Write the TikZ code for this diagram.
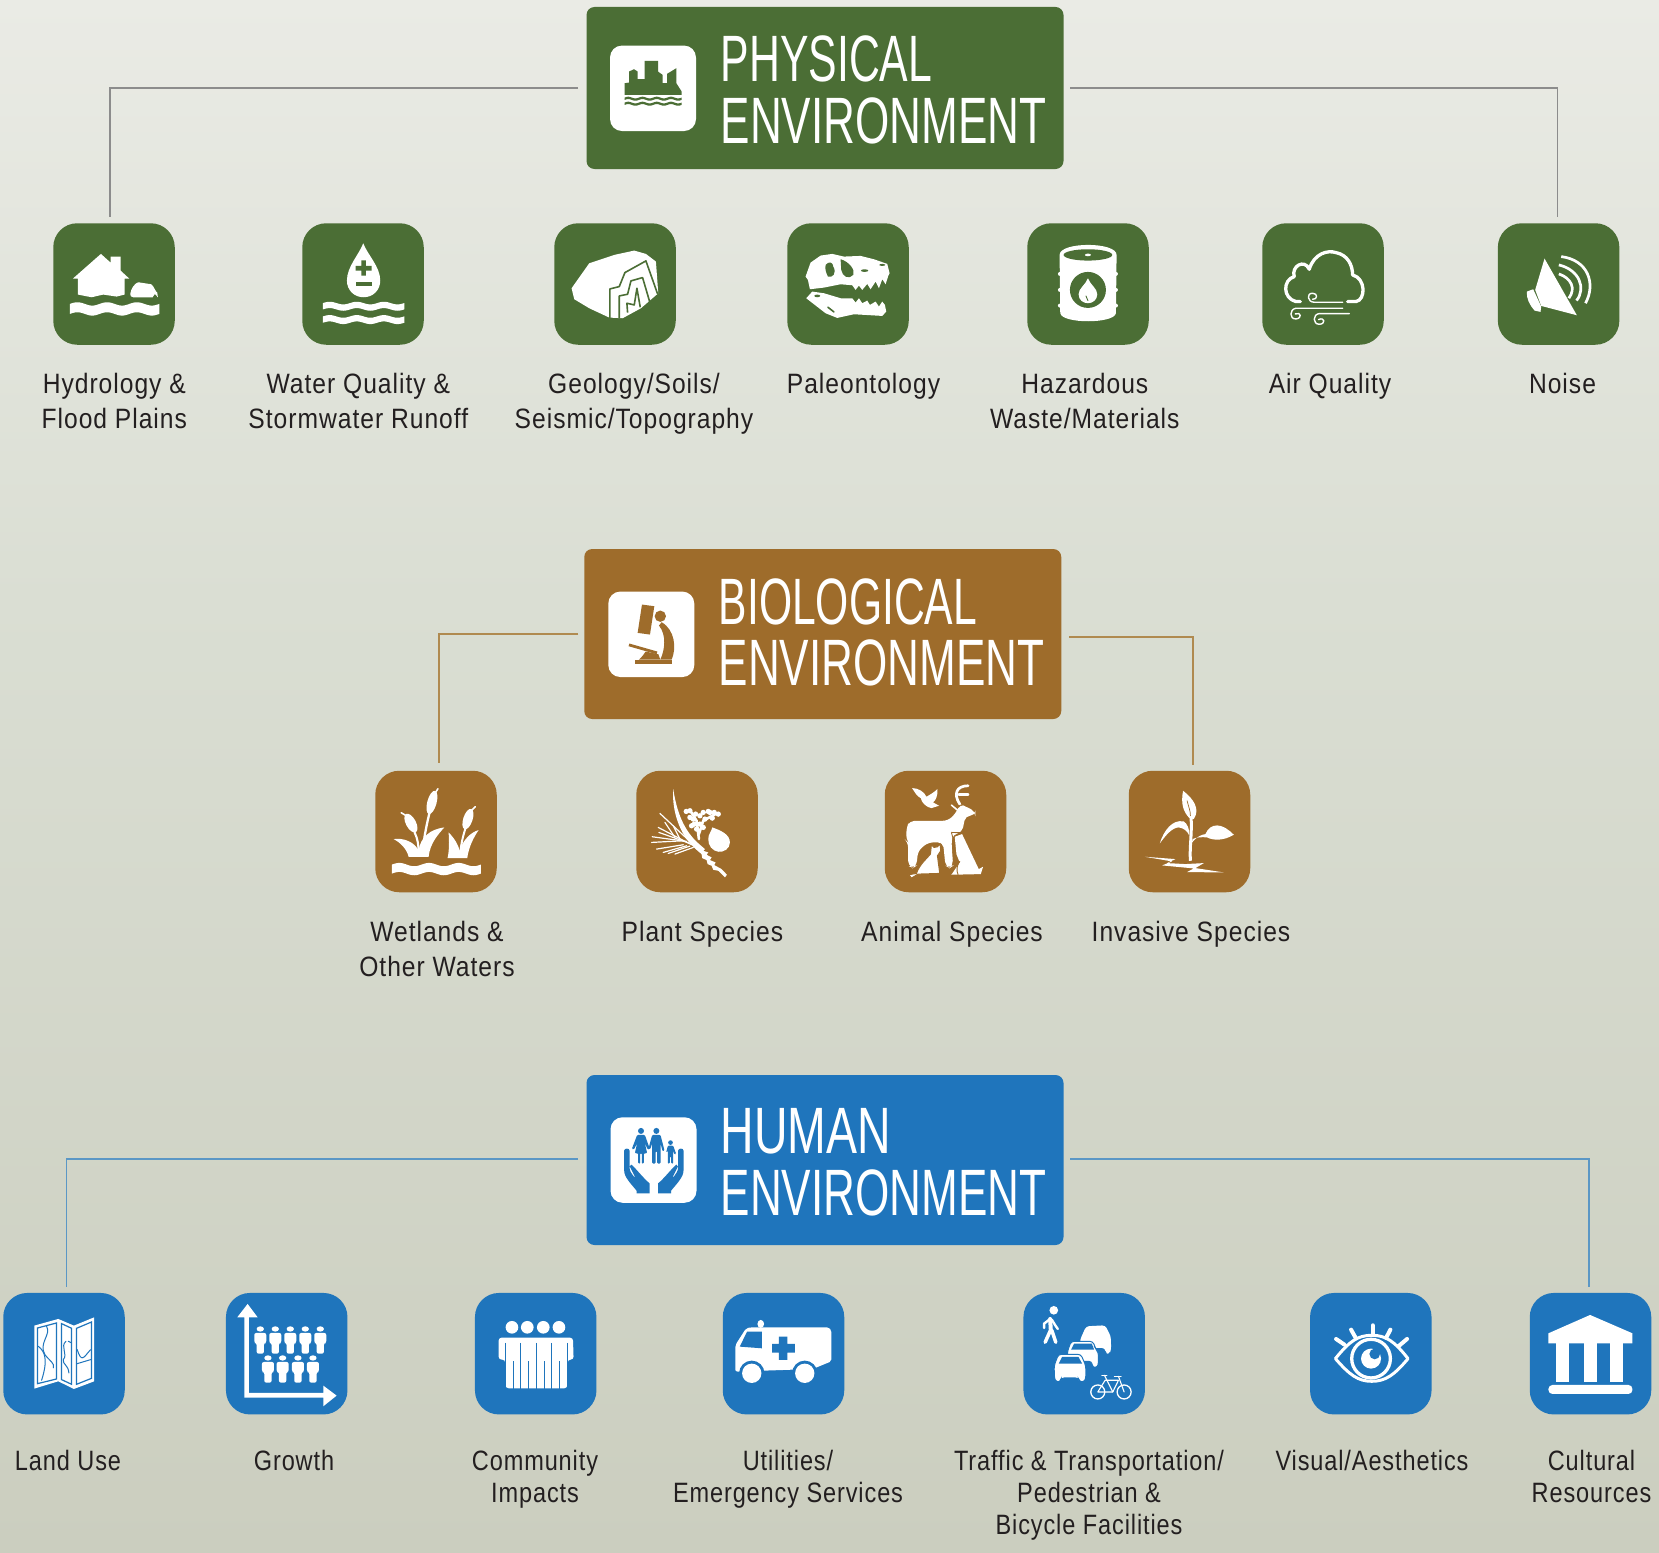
\documentclass[tikz,border=0pt]{standalone}
\usepackage{fontspec}
\setmainfont{Liberation Sans}
\newfontfamily\labfont[FakeStretch=.88,LetterSpace=3.5]{Liberation Sans}
\newfontfamily\labtfont[FakeStretch=.84,LetterSpace=3.2]{Liberation Sans}
\newfontfamily\headfont[FakeStretch=.672]{Liberation Sans}
\newfontfamily\headpfont[FakeStretch=.652]{Liberation Sans}
\newfontfamily\headbfont[FakeStretch=.65]{Liberation Sans}
\newfontfamily\headhfont[FakeStretch=.708]{Liberation Sans}
\definecolor{grn}{HTML}{4B6E35}
\definecolor{brn}{HTML}{9E6C2B}
\definecolor{blu}{HTML}{1F75BC}
\definecolor{inkc}{HTML}{231F20}
\definecolor{lgrn}{HTML}{8C8C8C}
\definecolor{lbrn}{HTML}{B08A50}
\definecolor{lblu}{HTML}{5B97C5}
\tikzset{
 ico/.style={rectangle,rounded corners=24pt,minimum size=121.5pt,inner sep=0pt,outer sep=0pt},
 headbox/.style={rectangle,rounded corners=8pt,minimum width=477pt,minimum height=#1,inner sep=0pt,outer sep=0pt},
 innerbox/.style={rectangle,rounded corners=12pt,fill=white,minimum width=86pt,minimum height=85.5pt,inner sep=0pt,outer sep=0pt},
 headtxt/.style={anchor=base west,align=left,text=white,inner sep=0pt,font=\headfont\fontsize{65.6}{61.7}\selectfont},
 lab/.style={anchor=base,align=center,text=inkc,inner sep=0pt,font=\labfont\fontsize{28}{35}\selectfont},
 labt/.style={anchor=base,align=center,text=inkc,inner sep=0pt,font=\labtfont\fontsize{28}{32}\selectfont},
 conn/.style={line width=1.4pt,draw=#1},
 st/.style={draw=white,line width=#1,line cap=round,line join=round},
 ho/.style={draw=hole,line width=#1,line cap=round,line join=round}
}
\newcommand\glyph[3]{\begin{scope}[shift={(#1.north west)},x=.33333pt,y=-.33333pt]\colorlet{hole}{#2}#3\end{scope}}
% x0 x1 ycentre thickness periods amp
\newcommand\wavebar[6]{\fill[white] plot[domain=#1:#2,samples=61] (\x,{#3-#4/2-#6*sin((\x-#1)/(#2-#1)*360*#5)}) -- plot[domain=#2:#1,samples=61] (\x,{#3+#4/2-#6*sin((\x-#1)/(#2-#1)*360*#5)}) -- cycle;}
\newcommand\pers[2]{\begin{scope}[shift={(#1,#2)}]\fill[white] (0,0) ellipse[x radius=11,y radius=8];
 \fill[white,rounded corners=2pt] (-18,12)--(18,12)--(18,42)--(11,42)--(11,74)--(-11,74)--(-11,42)--(-18,42)--cycle;\end{scope}}
\begin{document}
\begin{tikzpicture}[x=1pt,y=-1pt]
\useasboundingbox (0,0) rectangle (1659,1552);
\shade[top color={rgb,255:red,234;green,235;blue,229},bottom color={rgb,255:red,218;green,222;blue,211}] (0,0) rectangle (1659,600.5);
\shade[top color={rgb,255:red,218;green,222;blue,211},bottom color={rgb,255:red,203;green,206;blue,191}] (0,600) rectangle (1659,1552);

% ---- headers
\node[headbox=162pt,fill=grn] (phys) at (825,88) {};
\node[headbox=170pt,fill=brn] (bio) at (822.75,634) {};
\node[headbox=170pt,fill=blu] (hum) at (825,1160) {};
\node[innerbox] (physi) at (653,88.3) {};
\node[innerbox] (bioi) at (651.3,634.3) {};
\node[innerbox] (humi) at (653.5,1160) {};
\node[headtxt] (physt) at (720.5,143) {{\headpfont PHYSICAL}\\ENVIRONMENT};
\node[headtxt] (biot) at (718.5,685.7) {{\headbfont BIOLOGICAL}\\ENVIRONMENT};
\node[headtxt] (humt) at (720.5,1215) {{\headhfont HUMAN}\\ENVIRONMENT};

% ---- icon boxes
\foreach \n/\c in {hyd/114,wq/363,geo/615,pal/848,haz/1088,air/1323,noi/1558.6}
  \node[ico,fill=grn] (\n) at (\c,284) {};
\foreach \n/\c in {wet/436,pla/697,ani/945.5,inv/1189.5}
  \node[ico,fill=brn] (\n) at (\c,831.5) {};
\foreach \n/\c in {lan/64,gro/286.7,com/535.7,uti/783.5,tra/1084.2,vis/1370.8,cul/1590.5}
  \node[ico,fill=blu] (\n) at (\c,1353.7) {};

% ---- connectors
\draw[conn=lgrn,shorten <=8.5pt] (phys.west) -| ([xshift=-4pt,yshift=6pt]hyd.north);
\draw[conn=lgrn,shorten <=6.5pt] (phys.east) -| ([xshift=-1pt,yshift=6pt]noi.north);
\draw[conn=lbrn,shorten <=6pt] (bio.west) -| ([xshift=3pt,yshift=8pt]wet.north);
\draw[conn=lbrn,shorten <=8pt] ([yshift=-3pt]bio.east) -| ([xshift=3.5pt,yshift=5.7pt]inv.north);
\draw[conn=lblu,shorten <=8.5pt] ([yshift=1pt]hum.west) -| ([xshift=2.7pt,yshift=6pt]lan.north);
\draw[conn=lblu,shorten <=6.5pt] ([yshift=1pt]hum.east) -| ([xshift=-1.5pt,yshift=6pt]cul.north);

% ---- labels
\node[lab] (hydl) at (114.3,428) {Hydrology \&\\Flood Plains};
\node[lab] (wql) at (358.3,428) {Water Quality \&\\Stormwater Runoff};
\node[lab] (geol) at (634,428) {Geology/Soils/\\Seismic/Topography};
\node[lab] (pall) at (863.5,393) {Paleontology};
\node[lab] (hazl) at (1084.8,428) {Hazardous\\Waste/Materials};
\node[lab] (airl) at (1330,393) {Air Quality};
\node[lab] (noil) at (1562.5,393) {Noise};
\node[lab] (wetl) at (437,976.7) {Wetlands \&\\Other Waters};
\node[lab] (plal) at (702.4,941.7) {Plant Species};
\node[lab] (anil) at (952,941.7) {Animal Species};
\node[lab] (invl) at (1191,941.7) {Invasive Species};
\node[labt] (lanl) at (68,1470) {Land Use};
\node[labt] (grol) at (294,1470) {Growth};
\node[labt] (coml) at (535,1502) {Community\\Impacts};
\node[labt] (util) at (788,1502) {Utilities/\\Emergency Services};
\node[labt] (tral) at (1089,1534) {Traffic \& Transportation/\\Pedestrian \&\\Bicycle Facilities};
\node[labt] (visl) at (1372,1470) {Visual/Aesthetics};
\node[labt] (cull) at (1591.5,1502) {Cultural\\Resources};

% ---- header glyphs
\glyph{physi}{white}{
 \fill[grn] (44,148)--(44,113)--(57,111)--(57,78)--(72,71)--(83,78)--(83,101)--(104,101)--(104,46)--(144,46)--(144,78)--(158,88)--(158,113)--(171,113)--(171,85)--(199,68)--(199,113)--(215,138)--(215,148)--cycle;
 \fill[grn] plot[domain=44:215,samples=81] (\x,{156-2.5*sin((\x-44)/171*1440)}) -- plot[domain=215:44,samples=81] (\x,{163-2.5*sin((\x-44)/171*1440)}) -- cycle;
 \fill[grn] plot[domain=44:215,samples=81] (\x,{171-2.5*sin((\x-44)/171*1440)}) -- plot[domain=215:44,samples=81] (\x,{178-2.5*sin((\x-44)/171*1440)}) -- cycle;
}
\glyph{bioi}{white}{
 \fill[brn] (101,39)--(138,44)--(125,129)--(88,124)--cycle;
 \fill[brn] (156,74) circle[radius=17];
 \fill[brn] (160,92) .. controls (200,115) and (205,170) .. (190,204)--(156,204) .. controls (170,175) and (175,130) .. (152,102)--cycle;
 \fill[brn] (81,204)--(192,204)--(192,218)--(81,218)--cycle;
 \fill[brn] (112,180) .. controls (107,190) and (100,196) .. (92,204)--(156,204)--(150,188)--cycle;
 \draw[draw=brn,line width=2.8pt] (62,160)--(146,184);
}
\glyph{humi}{white}{
 \fill[blu] (91.5,41) circle[radius=9];
 \fill[blu] (137.6,41) circle[radius=9];
 \fill[blu] (180,76) circle[radius=7];
 \fill[blu,rounded corners=1pt] (80,53)--(103,53)--(118,95)--(112,97)--(103,78)--(110,108)--(100,108)--(100,139)--(94,139)--(94,108)--(89,108)--(89,139)--(83,139)--(83,108)--(73,108)--(80,78)--(70,97)--(64,95)--cycle;
 \fill[blu,rounded corners=1pt] (125,53)--(150,53)--(162,100)--(156,102)--(150,78)--(150,139)--(140,139)--(140,102)--(135,102)--(135,139)--(125,139)--(125,78)--(119,96)--(114,94)--cycle;
 \fill[blu,rounded corners=1pt] (172,85)--(188,85)--(197,110)--(192,112)--(188,100)--(188,139)--(182,139)--(182,118)--(178,118)--(178,139)--(172,139)--(172,100)--(167,106)--cycle;
 \foreach \t in {0,1}{
 \begin{scope}[shift={(\t*260,0)},xscale={1-2*\t}]
 \fill[blu] (41,100) .. controls (41,92) and (57,92) .. (57,100)--(57,150) .. controls (57,160) and (63,170) .. (70,178)--(74,180)--(58,148)--(62,142) .. controls (70,146) and (100,185) .. (117,198)--(117,228)--(78,228)--(78,220) .. controls (62,200) and (41,180) .. (41,160)--cycle;
 \end{scope}}
}

% ---- physical glyphs
\glyph{hyd}{grn}{
 \fill[white] (59,166)--(143,92)--(172,118)--(172,100)--(202,100)--(202,142)--(228,166)--(214,166)--(214,214)--(190,220)--(150,214)--(115,222)--(74,214)--(74,166)--cycle;
 \fill[white] (231,212) .. controls (233,195) and (245,180) .. (255,177)--(294,183) .. controls (303,190) and (306,205) .. (312,208)--(314,222)--(305,212)--(298,222)--(240,222) .. controls (233,222) and (231,218) .. (231,212)--cycle;
 \wavebar{50}{318}{257}{30}{3}{5}
}
\glyph{wq}{grn}{
 \fill[white] (183,60) .. controls (170,95) and (134,130) .. (134,172) .. controls (134,200) and (155,222) .. (184,222) .. controls (213,222) and (234,200) .. (234,172) .. controls (234,130) and (196,95) .. (183,60)--cycle;
 \fill[hole] (177,111)--(191,111)--(191,128)--(208,128)--(208,142)--(191,142)--(191,157)--(177,157)--(177,142)--(160,142)--(160,128)--(177,128)--cycle;
 \fill[hole] (160,175) rectangle (208,188);
 \wavebar{62}{306}{249}{19}{3}{4}
 \wavebar{62}{306}{289}{19}{3}{4}
}
\glyph{geo}{grn}{
 \fill[white] (52,195)--(105,120)--(180,95)--(240,82)--(275,92)--(305,115)--(312,210)--(260,255)--(205,285)--(165,283)--(105,255)--(60,228)--cycle;
 \draw[ho=1.6pt,line cap=butt] (167,284)--(167,197)--(195,190)--(212,148)--(275,113)--(310,212);
 \draw[ho=1.6pt,line cap=butt] (195,285)--(195,218)--(220,213)--(230,173)--(265,163)--(287,238);
 \draw[ho=1.6pt,line cap=butt] (220,268)--(218,240)--(240,245)--(248,195)--(258,252);
}
\glyph{pal}{grn}{
 \begin{scope}[shift={(-700,0)}]
 \fill[white] (755,160)--(770,118)--(800,97)--(835,92)--(870,100)--(920,98)--(960,108)--(1000,122)--(1007,150)--(1003,158)--(995,183)--(985,168)--(975,195)--(965,175)--(950,198)--(940,182)--(925,200)--(915,187)--(905,200)--(895,186)--(860,183)--(810,193)--(768,198)--(762,170)--cycle;
 \fill[hole] (860,108) .. controls (885,115) and (905,140) .. (898,155) .. controls (885,170) and (865,160) .. (862,140)--cycle;
 \fill[hole] (815,125) .. controls (825,112) and (838,118) .. (838,130) .. controls (850,150) and (835,165) .. (822,160) .. controls (818,150) and (812,140) .. (815,125)--cycle;
 \fill[hole] (932,142) ellipse[x radius=11,y radius=4];
 \fill[hole] (985,125) ellipse[x radius=9,y radius=3];
 \fill[white] (757,225)--(775,205)--(810,210)--(860,225)--(895,225)--(905,238)--(915,225)--(925,240)--(940,232)--(948,245)--(965,235)--(975,250)--(985,235)--(993,245)--(997,265)--(985,278)--(900,273)--(850,284)--(815,270)--cycle;
 \fill[hole] (790,218) ellipse[x radius=9,y radius=4];
 \draw[ho=1.6pt] (822,252)--(840,266);
 \end{scope}
}
\glyph{haz}{grn}{
 \fill[white] (97,95) .. controls (97,55) and (268,55) .. (268,95)--(266,270) .. controls (260,302) and (105,302) .. (99,270)--cycle;
 \foreach \y in {152,200,247}{\fill[white] (98,\y) circle[radius=6];\fill[white] (266,\y) circle[radius=6];}
 \fill[hole] (182,95) ellipse[x radius=73,y radius=17];
 \fill[white] (182,95) ellipse[x radius=9,y radius=4];
 \fill[hole] (182,200) circle[radius=54];
 \fill[white] (182,165) .. controls (175,185) and (154,195) .. (154,213) .. controls (154,230) and (168,240) .. (182,240) .. controls (196,240) and (210,230) .. (210,213) .. controls (210,195) and (189,185) .. (182,165)--cycle;
 \draw[ho=.9pt] (176,218)--(182,232);
}
\glyph{air}{grn}{
 \begin{scope}[shift={(-704,0)}]
 \draw[st=3.3pt] (818,235) -- (805,235) .. controls (765,225) and (765,170) .. (800,160) .. controls (790,130) and (830,105) .. (845,138) .. controls (860,90) and (900,80) .. (925,88) .. controls (960,95) and (975,125) .. (975,155) .. controls (1015,165) and (1015,230) .. (985,235)--(960,235);
 \draw[st=1.4pt] (945,237)--(860,237) .. controls (840,237) and (835,210) .. (855,210) .. controls (872,210) and (870,230) .. (855,228);
 \draw[st=1.4pt] (945,255)--(805,255) .. controls (785,258) and (785,288) .. (805,287) .. controls (825,285) and (820,265) .. (803,272);
 \draw[st=1.4pt] (965,271)--(875,271) .. controls (855,273) and (855,303) .. (875,303) .. controls (895,303) and (892,280) .. (873,289);
 \end{scope}
}
\glyph{noi}{grn}{
 \fill[white] (140,106)--(237,276)--(130,248)--(112,200)--cycle;
 \fill[white] (87,205)--(106,198)--(130,250)--(128,266)--(110,262) .. controls (95,245) and (85,225) .. (87,205)--cycle;
 \draw[st=2.7pt,line cap=butt] (190,100) .. controls (270,110) and (295,180) .. (263,240);
 \draw[st=2.7pt,line cap=butt] (183,125) .. controls (245,140) and (265,195) .. (236,232);
 \draw[st=2.7pt,line cap=butt] (183,152) .. controls (220,165) and (235,195) .. (213,225);
}

% ---- biological glyphs
\glyph{wet}{brn}{
 \wavebar{50}{317}{295}{27}{3}{5}
 % left plant
 \fill[white] (55,205) .. controls (85,200) and (120,215) .. (130,240) .. controls (135,200) and (165,175) .. (207,170) .. controls (190,190) and (165,215) .. (160,258)--(100,258) .. controls (95,235) and (75,215) .. (55,205)--cycle;
 \draw[st=2.3pt] (163,125) .. controls (152,170) and (145,210) .. (142,245);
 \draw[st=2.1pt] (118,185) .. controls (128,205) and (130,225) .. (130,245);
 \begin{scope}[shift={(170,95)},rotate=-15]\fill[white] (0,0) ellipse[x radius=14,y radius=36];\end{scope}
 \draw[st=1.6pt] (178,70)--(188,54);
 \begin{scope}[shift={(107,157)},rotate=28]\fill[white] (0,0) ellipse[x radius=15,y radius=31];\end{scope}
 \draw[st=1.6pt] (93,135)--(78,126);
 % right plant
 \fill[white] (220,185) .. controls (240,205) and (250,225) .. (253,240) .. controls (262,210) and (285,185) .. (310,178) .. controls (295,200) and (280,230) .. (276,262)--(217,262) .. controls (222,240) and (222,210) .. (220,185)--cycle;
 \draw[st=2pt] (270,175) .. controls (262,200) and (258,220) .. (255,245);
 \begin{scope}[shift={(278,145)},rotate=-18]\fill[white] (0,0) ellipse[x radius=14,y radius=32];\end{scope}
 \draw[st=1.6pt] (288,120)--(300,108);
}
\glyph{pla}{brn}{
 \begin{scope}[shift={(-784,0)}]
 \fill[white] (895,55) .. controls (905,120) and (925,180) .. (975,222)--(990,235)--(985,240)--(1000,245)--(995,252)--(1010,260)--(1005,268)--(1022,275)--(1018,283)--(1040,295)--(1056,312)--(1050,320)--(1030,300)--(1015,297)--(1010,285)--(998,280)--(995,268)--(982,262)--(980,250)--(968,240)--(955,228) .. controls (915,190) and (890,120) .. (895,55)--cycle;
 \foreach \xa/\ya/\xb/\yb in {962/228/855/128,950/222/850/170,945/218/852/185,935/212/832/198,925/210/830/215,925/222/845/235,935/225/865/245,945/226/880/248,955/230/900/250,900/200/870/155,915/205/895/165}
   \draw[st=1.2pt] (\xa,\ya)--(\xb,\yb);
 \fill[white] (1000,205) .. controls (1000,190) and (1010,182) .. (1012,170) .. controls (1035,178) and (1065,190) .. (1065,215) .. controls (1065,235) and (1045,245) .. (1030,243) .. controls (1012,240) and (1000,225) .. (1000,205)--cycle;
 \draw[st=2.6pt] (972,205)--(965,150)--(945,118);
 \draw[st=2.6pt] (972,190)--(985,150)--(1025,128);
 \foreach \a/\b in {945/120,934/122,955/145,975/135,1000/122,1012/142,1030/130,950/165,985/170,1005/125,965/175,962/130,945/140,990/145,975/160,958/160,985/125,1018/125}
   \fill[white] (\a,\b) circle[radius=8];
 \end{scope}
}
\glyph{ani}{brn}{
 % bird
 \fill[white] (82,52) .. controls (100,52) and (118,62) .. (125,78) .. controls (135,72) and (148,65) .. (158,55) .. controls (160,75) and (152,90) .. (145,95)--(163,105)--(140,112) .. controls (125,110) and (110,95) .. (108,82) .. controls (98,78) and (90,65) .. (82,52)--cycle;
 % antlers
 \draw[st=2.7pt] (225,100) .. controls (205,70) and (215,45) .. (250,45);
 \draw[st=2.7pt] (222,72)--(250,72);
 \draw[st=1.6pt] (200,103)--(218,118);
 % deer
 \fill[white,rounded corners=5pt] (65,170)--(75,150)--(190,150)--(215,125)--(225,100)--(238,105)--(272,122)--(272,134)--(242,135)--(232,185)--(205,190)--(200,210)--(205,285)--(195,292)--(182,285)--(175,215)--(130,215)--(100,240)--(95,285)--(85,292)--(70,285)--(70,215)--(65,210)--cycle;
 % dog
 \fill[white] (210,198)--(232,190)--(282,295)--(295,288)--(288,310)--(200,312)--(225,275)--(215,250)--cycle;
 \draw[ho=.9pt,line cap=butt] (200,185)--(232,186);
 \draw[ho=.9pt,line cap=butt] (200,185)--(207,212)--(205,250);
 \draw[ho=.9pt] (225,272) .. controls (215,285) and (215,300) .. (220,312);
 % cat
 \draw[hole,fill=white,line width=1pt] (140,222)--(148,230)--(158,228)--(166,220)--(168,240)--(158,255)--(165,308)--(100,310)--(80,322)--(72,312)--(95,308) .. controls (105,280) and (125,265) .. (137,250)--cycle;
}
\glyph{inv}{brn}{
 \begin{scope}[shift={(-730,0)}]
 \fill[white] (893,60) .. controls (925,85) and (945,115) .. (925,145)--(912,142) .. controls (895,125) and (885,100) .. (893,60)--cycle;
 \draw[ho=.7pt] (905,90) .. controls (910,110) and (915,120) .. (915,135);
 \draw[st=3pt,line cap=butt] (917,142) .. controls (920,190) and (912,230) .. (915,270);
 \fill[white] (823,218) .. controls (835,180) and (860,145) .. (895,152) .. controls (905,158) and (913,175) .. (912,195) .. controls (905,180) and (895,172) .. (880,170) .. controls (860,170) and (840,195) .. (823,218)--cycle;
 \fill[white] (1045,192) .. controls (1010,155) and (975,155) .. (960,190) .. controls (950,192) and (935,195) .. (918,218)--(922,205) .. controls (930,200) and (950,198) .. (965,200) .. controls (985,210) and (1015,210) .. (1045,192)--cycle;
 \fill[white] (778,258)--(870,265)--(845,277)--(900,280)--(955,277)--(930,292)--(1015,305)--(905,304)--(925,293)--(830,284)--(860,272)--cycle;
 \end{scope}
}

% ---- human glyphs
\glyph{lan}{blu}{
 \fill[white] (93,98)--(165,78)--(212,98)--(273,73)--(273,265)--(212,288)--(165,265)--(93,287)--cycle;
 \draw[ho=1.2pt,line cap=butt,line join=miter] (103,105)--(160,90)--(160,258)--(103,272)--cycle;
 \draw[ho=1.2pt,line cap=butt,line join=miter] (175,92)--(205,106)--(205,274)--(175,260)--cycle;
 \draw[ho=1.2pt,line cap=butt,line join=miter] (220,106)--(265,87)--(265,256)--(220,274)--cycle;
 \draw[ho=1pt] (130,100) .. controls (145,125) and (105,150) .. (125,185) .. controls (140,205) and (155,210) .. (150,225);
 \draw[ho=1pt] (105,160) .. controls (125,175) and (135,200) .. (115,262);
 \draw[ho=1pt] (188,145) .. controls (170,160) and (195,185) .. (180,200) .. controls (178,215) and (195,215) .. (197,240);
 \draw[ho=1pt] (222,170) .. controls (235,210) and (240,195) .. (262,170);
 \draw[ho=1pt] (222,212)--(262,200);
 \draw[ho=1pt] (195,145)--(205,150);
}
\glyph{gro}{blu}{
 \fill[white] (65,33)--(95,73)--(69,73)--(69,300)--(292,300)--(292,278)--(332,308)--(292,340)--(292,314)--(55,314)--(55,73)--(34,73)--cycle;
 \foreach \c in {103,148,193,238,283}{\pers{\c}{108}}
 \foreach \c in {126,170,216,261}{\pers{\c}{195}}
}
\glyph{com}{blu}{
 \foreach \c in {111,157,205,252}{\fill[white] (\c,103) ellipse[x radius=19,y radius=19];}
 \fill[white,rounded corners=3pt] (71,134)--(294,134)--(296,200)--(278,200)--(277,286)--(92,286)--(91,200)--(71,200)--cycle;
 \foreach \c/\t in {92/150,115/205,137/150,160/205,183/150,207/205,230/150,253/205,277/150}
   \draw[ho=.8pt,line cap=butt] (\c,\t)--(\c,287);
}
\glyph{uti}{blu}{
 \fill[white] (114,93) ellipse[x radius=10,y radius=12];
 \fill[white,rounded corners=2pt] (38,236)--(38,156)--(70,106)--(85,103)--(318,103)--(326,112)--(326,205)--(270,228)--(38,236)--cycle;
 \fill[hole] (51,161)--(73,116)--(117,116)--(117,166)--cycle;
 \fill[hole] (168,131)--(194,131)--(194,153)--(216,153)--(216,179)--(194,179)--(194,201)--(168,201)--(168,179)--(148,179)--(148,153)--(168,153)--cycle;
 \fill[hole] (87,241) circle[radius=38];
 \fill[hole] (246,241) circle[radius=38];
 \fill[white] (87,241) circle[radius=29];
 \fill[white] (246,241) circle[radius=29];
}
\glyph{tra}{blu}{
 \fill[white] (91,52) circle[radius=13];
 \draw[st=4pt] (80,78)--(82,110);
 \draw[st=3.5pt] (82,110)--(65,148);
 \draw[st=3.5pt] (85,112)--(97,148);
 \draw[st=2.4pt] (80,78)--(62,92)--(62,105);
 \draw[st=2.4pt] (85,80)--(96,98)--(103,108);
 \fill[white,rounded corners=3pt] (170,140)--(188,100)--(245,97)--(262,130)--(263,170)--(258,182)--(247,182)--(245,165)--(220,165)--(170,165)--cycle;
 \draw[hole,fill=white,line width=1pt,rounded corners=3pt] (132,175)--(143,145)--(208,145)--(218,170)--(225,178)--(225,215)--(220,224)--(207,224)--(205,205)--(132,205)--cycle;
 \fill[hole] (143,170)--(152,152)--(205,152)--(212,170)--cycle;
 \draw[hole,fill=white,line width=1pt,rounded corners=3pt] (92,218)--(105,184)--(172,184)--(187,218)--(187,258)--(182,267)--(168,267)--(165,255)--(113,255)--(111,267)--(98,267)--(93,258)--cycle;
 \fill[hole] (106,212)--(116,192)--(165,192)--(176,212)--cycle;
 \draw[white,line width=1.3pt] (223,297) circle[radius=21];
 \draw[white,line width=1.3pt] (302,297) circle[radius=21];
 \draw[st=1.1pt] (223,297)--(245,262)--(285,262)--(268,297)--cycle;
 \draw[st=1.1pt] (243,247)--(268,297);
 \draw[st=1.1pt] (285,250)--(302,297);
 \draw[st=1.1pt] (273,250)--(293,250);
 \draw[st=1.1pt] (235,247)--(250,247);
}
\glyph{vis}{blu}{
 \begin{scope}[shift={(-857,0)}]
 \draw[st=3pt] (933,197) .. controls (975,145) and (1000,127) .. (1042,127) .. controls (1085,127) and (1110,145) .. (1151,197) .. controls (1110,245) and (1085,265) .. (1042,265) .. controls (1000,265) and (975,245) .. (933,197)--cycle;
 \draw[white,line width=3.3pt] (1040,197) circle[radius=58];
 \fill[white] (1040,197) circle[radius=30];
 \fill[hole] (1051,183) circle[radius=16];
 \draw[st=4pt] (1045,97)--(1045,122);
 \draw[st=4pt] (980,110)--(994,135);
 \draw[st=4pt] (1098,110)--(1085,135);
 \draw[st=4pt] (935,138)--(960,155);
 \draw[st=4pt] (1148,138)--(1122,160);
 \end{scope}
}
\glyph{cul}{blu}{
 \fill[white] (181,66)--(308,121)--(308,151)--(56,151)--(56,121)--cycle;
 \fill[white] (79,151) rectangle (119,266);
 \fill[white] (162,151) rectangle (202,266);
 \fill[white] (241,151) rectangle (281,266);
 \fill[white,rounded corners=4pt] (56,276) rectangle (308,303);
}
\end{tikzpicture}
\end{document}
